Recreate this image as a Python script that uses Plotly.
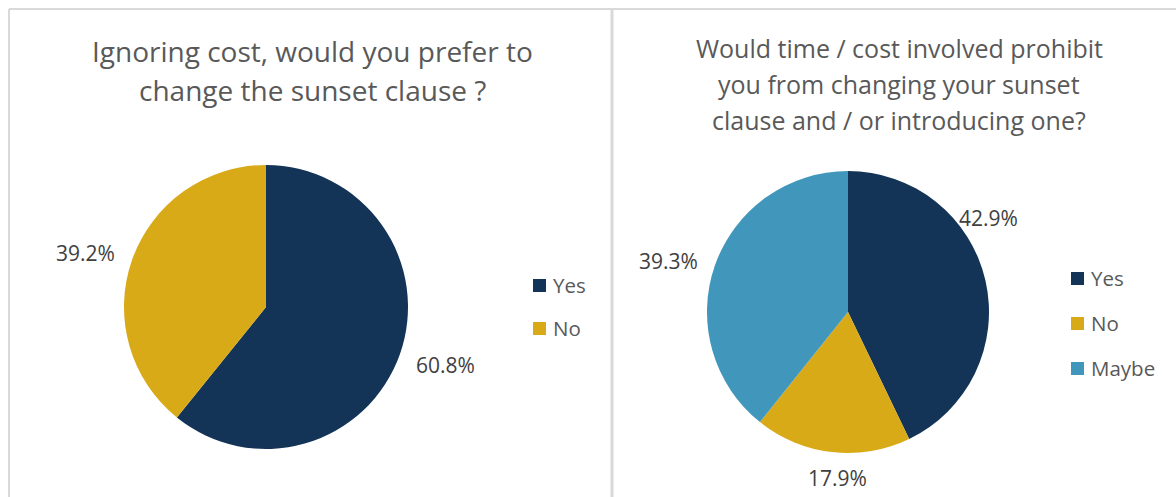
import math
import plotly.graph_objects as go

# Survey answers
q1_title = ["Ignoring cost, would you prefer to", "change the sunset clause ?"]
q1_labels = ["Yes", "No"]
q1_values = [60.8, 39.2]

q2_title = ["Would time / cost involved prohibit", "you from changing your sunset",
            "clause and / or introducing one?"]
q2_labels = ["Yes", "No", "Maybe"]
q2_values = [42.9, 17.9, 39.3]

colors = {"Yes": "#133457", "No": "#D9AA18", "Maybe": "#4097BB"}

W, H = 1176, 497
FONT = "Open Sans"
TITLE_COLOR = "#595959"
LABEL_COLOR = "#404040"


def px(x):
    return x / W


def py(y):
    return 1 - y / H


fig = go.Figure()

# chart layout in pixels: pie centre, radius, label distance, title lines, legend anchor
panels = [
    dict(title=q1_title, labels=q1_labels, values=q1_values, cx=266, cy=307, r=142,
         label_r=1.33, nudge={"Yes": (-1.5, 1.0), "No": (-2.7, 1.0)},
         title_x=312, title_y0=51, title_gap=39, title_size=28,
         leg_x=533, leg_y=285, leg_gap=43),
    dict(title=q2_title, labels=q2_labels, values=q2_values, cx=848, cy=312, r=141,
         label_r=1.3, nudge={"Yes": (-21, 0.92), "No": (-3, 0.91), "Maybe": (-3.5, 1.02)},
         title_x=899, title_y0=48, title_gap=36, title_size=25,
         leg_x=1071, leg_y=278, leg_gap=45),
]

shapes = []
annotations = []

for p in panels:
    cx, cy, r = p["cx"], p["cy"], p["r"]
    fig.add_trace(go.Pie(
        labels=p["labels"], values=p["values"], sort=False, direction="clockwise",
        rotation=0, textinfo="none", hoverinfo="label+percent", showlegend=False,
        marker=dict(colors=[colors[l] for l in p["labels"]], line=dict(width=0)),
        domain=dict(x=[px(cx - r), px(cx + r)], y=[py(cy + r), py(cy - r)]),
    ))

    # percentage labels placed around the pie near each slice's mid-angle
    total = sum(p["values"])
    start = 0.0
    for lab, v in zip(p["labels"], p["values"]):
        frac = v / total
        mid = (start + frac / 2) * 360
        start += frac
        dang, rscale = p["nudge"].get(lab, (0, 1.0))
        ang = math.radians(mid + dang)
        R = r * p["label_r"] * rscale
        lx = cx + R * math.sin(ang)
        ly = cy - R * math.cos(ang)
        annotations.append(dict(
            x=px(lx), y=py(ly), xref="paper", yref="paper", showarrow=False,
            text=f"{v / total * 100:.1f}%", font=dict(family=FONT, size=21, color=LABEL_COLOR),
            xanchor="center", yanchor="middle",
        ))

    # chart title, one annotation per line for Excel-like line spacing
    for i, line in enumerate(p["title"]):
        annotations.append(dict(
            x=px(p["title_x"]), y=py(p["title_y0"] + i * p["title_gap"]), xref="paper",
            yref="paper", showarrow=False, text=line, xanchor="center", yanchor="middle",
            font=dict(family=FONT, size=p["title_size"], color=TITLE_COLOR),
        ))

    # legend: coloured square plus category name
    for i, lab in enumerate(p["labels"]):
        yc = p["leg_y"] + i * p["leg_gap"]
        shapes.append(dict(
            type="rect", xref="paper", yref="paper",
            x0=px(p["leg_x"]), x1=px(p["leg_x"] + 13), y0=py(yc + 7), y1=py(yc - 6),
            fillcolor=colors[lab], line=dict(width=0),
        ))
        annotations.append(dict(
            x=px(p["leg_x"] + 18), y=py(yc), xref="paper", yref="paper", showarrow=False,
            text=lab, xanchor="left", yanchor="middle",
            font=dict(family=FONT, size=20.5, color=TITLE_COLOR),
        ))

# chart area borders
border = dict(color="#D9D9D9", width=2)
shapes += [
    dict(type="line", xref="paper", yref="paper", x0=px(9), x1=1, y0=py(9), y1=py(9), line=border),
    dict(type="line", xref="paper", yref="paper", x0=px(9), x1=px(9), y0=0, y1=py(9), line=border),
    dict(type="line", xref="paper", yref="paper", x0=px(612), x1=px(612), y0=0, y1=py(9),
         line=dict(color="#D9D9D9", width=3)),
]

fig.update_layout(
    width=W, height=H, margin=dict(l=0, r=0, t=0, b=0),
    paper_bgcolor="white", plot_bgcolor="white",
    shapes=shapes, annotations=annotations, showlegend=False,
)

fig.write_html("out.html")
